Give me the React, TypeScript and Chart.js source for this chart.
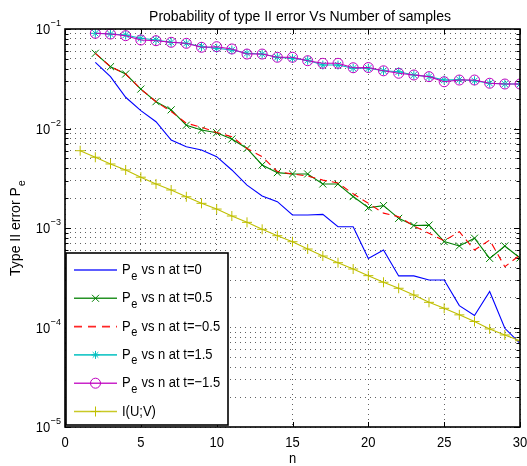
import React, { useEffect, useRef } from 'react';
import { Chart, registerables } from 'chart.js';

Chart.register(...registerables);

// ---------------- data ----------------
const nPe = [2, 3, 4, 5, 6, 7, 8, 9, 10, 11, 12, 13, 14, 15, 16, 17, 18, 19, 20, 21, 22, 23, 24, 25, 26, 27, 28, 29, 30];
const nI = [1, 2, 3, 4, 5, 6, 7, 8, 9, 10, 11, 12, 13, 14, 15, 16, 17, 18, 19, 20, 21, 22, 23, 24, 25, 26, 27, 28, 29, 30];

const peT0 = [0.0463, 0.0332, 0.0206, 0.0151, 0.0117, 0.00766, 0.00656, 0.00608, 0.00521, 0.00383, 0.0027, 0.0021, 0.00184, 0.00135, 0.00135, 0.00137, 0.00103, 0.00103, 0.000495, 0.0006, 0.00033, 0.00033, 0.0003, 0.0003, 0.000166, 0.000132, 0.00023, 0.0000982, 0.0000693];
const peT05 = [0.057, 0.0418, 0.0353, 0.0249, 0.0186, 0.0154, 0.0108, 0.00966, 0.00908, 0.00784, 0.0063, 0.0043, 0.0036, 0.00349, 0.00349, 0.00277, 0.00277, 0.00207, 0.0016, 0.00168, 0.00125, 0.00106, 0.00107, 0.00073, 0.00066, 0.00079, 0.000495, 0.00066, 0.0005];
const peTm05 = [0.057, 0.0418, 0.0353, 0.0249, 0.0186, 0.0148, 0.0113, 0.0103, 0.0091, 0.00828, 0.0063, 0.0052, 0.0037, 0.00349, 0.00333, 0.00303, 0.00283, 0.00221, 0.00177, 0.00141, 0.0013, 0.00105, 0.000885, 0.000745, 0.000918, 0.000601, 0.000757, 0.000408, 0.000535];
const peT15 = [0.0905, 0.089, 0.087, 0.0806, 0.0775, 0.0735, 0.0718, 0.0664, 0.064, 0.0615, 0.057, 0.056, 0.052, 0.0507, 0.0485, 0.0434, 0.0434, 0.0403, 0.0403, 0.038, 0.0372, 0.0345, 0.0332, 0.0307, 0.031, 0.0302, 0.0285, 0.028, 0.028];
const peTm15 = [0.0905, 0.089, 0.0857, 0.0775, 0.0763, 0.0735, 0.0718, 0.0655, 0.0664, 0.063, 0.056, 0.056, 0.052, 0.052, 0.048, 0.0452, 0.0452, 0.0408, 0.041, 0.038, 0.0359, 0.0345, 0.0332, 0.0295, 0.0307, 0.0307, 0.0285, 0.028, 0.028];
const iUV = [0.00598, 0.00514, 0.0044, 0.00383, 0.00324, 0.00277, 0.00241, 0.00206, 0.00177, 0.00155, 0.00132, 0.00114, 0.00097, 0.000837, 0.000728, 0.000615, 0.000523, 0.000448, 0.000387, 0.000332, 0.000285, 0.000248, 0.000212, 0.000179, 0.000156, 0.000134, 0.000115, 0.0000967, 0.0000841, 0.0000736];

const xTicks = [0, 5, 10, 15, 20, 25, 30];
const yDecadeExps = [-5, -4, -3, -2, -1];
const yMinorMult = [1, 2, 3, 4, 5, 6, 7, 8, 9];

const titleText = 'Probability of type II error Vs Number of samples';
const xLabel = 'n';
const yLabelMain = 'Type II error P';
const yLabelSub = 'e';

const legendItems = [
  { main: 'P', sub: 'e', rest: ' vs n at t=0', color: '#0000ff', marker: 'none', dash: [] as number[] },
  { main: 'P', sub: 'e', rest: ' vs n at t=0.5', color: '#008000', marker: 'x', dash: [] as number[] },
  { main: 'P', sub: 'e', rest: ' vs n at t=\u22120.5', color: '#ff0000', marker: 'none', dash: [8, 6] },
  { main: 'P', sub: 'e', rest: ' vs n at t=1.5', color: '#00bfbf', marker: 'star', dash: [] as number[] },
  { main: 'P', sub: 'e', rest: ' vs n at t=\u22121.5', color: '#bf00bf', marker: 'circle', dash: [] as number[] },
  { main: 'I(U;V)', sub: '', rest: '', color: '#bfbf00', marker: 'plus', dash: [] as number[] },
];

const FONT = "'Liberation Sans', Arial, Helvetica, sans-serif";

function pts(xs: number[], ys: number[]) {
  return xs.map((x, i) => ({ x, y: ys[i] }));
}

function textScaled(ctx: CanvasRenderingContext2D, s: string, x: number, y: number, sy: number) {
  ctx.save();
  ctx.translate(x, y);
  ctx.scale(1, sy);
  ctx.fillText(s, 0, 0);
  ctx.restore();
}

function drawMarker(ctx: CanvasRenderingContext2D, kind: string, cx: number, cy: number, color: string) {
  ctx.save();
  ctx.strokeStyle = color;
  ctx.lineWidth = 1;
  ctx.setLineDash([]);
  ctx.beginPath();
  if (kind === 'x') {
    const r = 3.5;
    ctx.moveTo(cx - r, cy - r); ctx.lineTo(cx + r, cy + r);
    ctx.moveTo(cx - r, cy + r); ctx.lineTo(cx + r, cy - r);
  } else if (kind === 'star') {
    const r = 4;
    ctx.moveTo(cx - r, cy); ctx.lineTo(cx + r, cy);
    ctx.moveTo(cx, cy - r); ctx.lineTo(cx, cy + r);
    const d = r * 0.7;
    ctx.moveTo(cx - d, cy - d); ctx.lineTo(cx + d, cy + d);
    ctx.moveTo(cx - d, cy + d); ctx.lineTo(cx + d, cy - d);
  } else if (kind === 'circle') {
    ctx.arc(cx, cy, 5, 0, Math.PI * 2);
  } else if (kind === 'plus') {
    const r = 5;
    ctx.moveTo(cx - r, cy); ctx.lineTo(cx + r, cy);
    ctx.moveTo(cx, cy - r); ctx.lineTo(cx, cy + r);
  }
  ctx.stroke();
  ctx.restore();
}

const decorPlugin = {
  id: 'matlabDecor',
  afterDatasetsDraw(chart: any) {
    const ctx: CanvasRenderingContext2D = chart.ctx;
    const a = chart.chartArea;
    const xs = chart.scales.x;
    const ys = chart.scales.y;
    ctx.save();
    ctx.setLineDash([]);
    ctx.strokeStyle = '#000';
    ctx.lineWidth = 1;

    // inner tick marks (y)
    ctx.beginPath();
    yDecadeExps.forEach((e) => {
      yMinorMult.forEach((m) => {
        const v = m * Math.pow(10, e);
        const py = Math.round(ys.getPixelForValue(v)) + 0.5;
        const len = m === 1 ? 6 : 3.5;
        ctx.moveTo(a.left, py); ctx.lineTo(a.left + len, py);
        ctx.moveTo(a.right, py); ctx.lineTo(a.right - len, py);
      });
    });
    // inner tick marks (x)
    xTicks.forEach((t) => {
      const px = Math.round(xs.getPixelForValue(t)) + 0.5;
      ctx.moveTo(px, a.bottom); ctx.lineTo(px, a.bottom - 5);
      ctx.moveTo(px, a.top); ctx.lineTo(px, a.top + 5);
    });
    ctx.stroke();

    // box
    ctx.lineWidth = 1.6;
    ctx.strokeRect(a.left, a.top, a.right - a.left, a.bottom - a.top);

    // legend
    const lx0 = 66, ly0 = 253, lx1 = 228, ly1 = 425;
    ctx.fillStyle = '#fff';
    ctx.fillRect(lx0, ly0, lx1 - lx0, ly1 - ly0);
    ctx.lineWidth = 1.6;
    ctx.strokeStyle = '#000';
    ctx.strokeRect(lx0, ly0, lx1 - lx0, ly1 - ly0);
    legendItems.forEach((it, i) => {
      const ry = 270 + i * 28.3;
      ctx.save();
      ctx.strokeStyle = it.color;
      ctx.globalAlpha = 0.85;
      ctx.lineWidth = 1.6;
      ctx.setLineDash(it.dash);
      ctx.beginPath();
      ctx.moveTo(74, ry); ctx.lineTo(117, ry);
      ctx.stroke();
      ctx.restore();
      if (it.marker !== 'none') drawMarker(ctx, it.marker, 95.5, ry, it.color);
      ctx.fillStyle = '#000';
      ctx.textAlign = 'left';
      ctx.textBaseline = 'alphabetic';
      ctx.font = `13px ${FONT}`;
      let x = 122;
      textScaled(ctx, it.main, x, ry + 4, 1.18);
      x += ctx.measureText(it.main).width;
      if (it.sub) {
        ctx.font = `11px ${FONT}`;
        textScaled(ctx, it.sub, x + 0.5, ry + 9.5, 1.18);
        x += ctx.measureText(it.sub).width + 1;
        ctx.font = `13px ${FONT}`;
      }
      if (it.rest) textScaled(ctx, it.rest, x, ry + 4, 1.18);
    });

    // x tick labels
    ctx.fillStyle = '#000';
    ctx.font = `13px ${FONT}`;
    ctx.textAlign = 'center';
    ctx.textBaseline = 'alphabetic';
    xTicks.forEach((t) => {
      textScaled(ctx, String(t), xs.getPixelForValue(t), 447, 1.1);
    });
    textScaled(ctx, xLabel, (a.left + a.right) / 2, 463, 1.1);

    // y tick labels
    yDecadeExps.forEach((e) => {
      const py = ys.getPixelForValue(Math.pow(10, e));
      const expStr = '\u2212' + String(-e);
      ctx.font = `9px ${FONT}`;
      ctx.textAlign = 'right';
      const ew = ctx.measureText(expStr).width;
      textScaled(ctx, expStr, 61, py - 3, 1.1);
      ctx.font = `13px ${FONT}`;
      textScaled(ctx, '10', 61 - ew - 0.5, py + 5.3, 1.15);
    });

    // title
    ctx.font = `14px ${FONT}`;
    ctx.textAlign = 'center';
    ctx.fillText(titleText, 300, 20.5);

    // y label (rotated)
    ctx.save();
    ctx.translate(20, (a.top + a.bottom) / 2);
    ctx.rotate(-Math.PI / 2);
    ctx.font = `14px ${FONT}`;
    const w1 = ctx.measureText(yLabelMain).width;
    ctx.font = `11px ${FONT}`;
    const w2 = ctx.measureText(yLabelSub).width;
    const start = -(w1 + w2 + 1) / 2;
    ctx.textAlign = 'left';
    ctx.font = `14px ${FONT}`;
    ctx.fillText(yLabelMain, start, 0);
    ctx.font = `11px ${FONT}`;
    ctx.fillText(yLabelSub, start + w1 + 1, 5);
    ctx.restore();

    ctx.restore();
  },
};

export default function App() {
  const ref = useRef<HTMLCanvasElement>(null);
  useEffect(() => {
    if (!ref.current) return;
    const lineBase = { fill: false, tension: 0, borderWidth: 1.1, pointBorderWidth: 1, pointBackgroundColor: 'rgba(0,0,0,0)' };
    const gridColor = 'rgba(0,0,0,0.62)';
    const chart = new Chart(ref.current, {
      type: 'line',
      data: {
        datasets: [
          { ...lineBase, label: 't=0', data: pts(nPe, peT0), borderColor: '#0000ff', pointRadius: 0, order: 6 },
          { ...lineBase, label: 't=0.5', data: pts(nPe, peT05), borderColor: '#008000', pointBorderColor: '#008000', pointStyle: 'crossRot', pointRadius: 5, order: 5 },
          { ...lineBase, label: 't=-0.5', data: pts(nPe, peTm05), borderColor: '#ff0000', borderDash: [7, 5], pointRadius: 0, order: 4 },
          { ...lineBase, label: 't=1.5', data: pts(nPe, peT15), borderColor: '#00bfbf', pointBorderColor: '#00bfbf', pointStyle: 'star', pointRadius: 4.5, order: 3 },
          { ...lineBase, label: 't=-1.5', data: pts(nPe, peTm15), borderColor: '#bf00bf', pointBorderColor: '#bf00bf', pointStyle: 'circle', pointRadius: 5, order: 2 },
          { ...lineBase, label: 'I(U;V)', data: pts(nI, iUV), borderColor: '#bfbf00', pointBorderColor: '#bfbf00', pointStyle: 'cross', pointRadius: 5, order: 1 },
        ],
      },
      options: {
        responsive: false,
        animation: false,
        devicePixelRatio: 1,
        layout: { padding: { left: 0, right: 7, top: 29, bottom: 0 } },
        plugins: { legend: { display: false }, tooltip: { enabled: false }, title: { display: false } },
        scales: {
          x: {
            type: 'linear',
            min: 0,
            max: 30,
            ticks: { display: false, stepSize: 5 },
            afterBuildTicks: (s: any) => { s.ticks = xTicks.map((v) => ({ value: v })); },
            afterFit: (s: any) => { s.height = 39; },
            border: { display: false, dash: [1, 4] },
            grid: { color: gridColor, lineWidth: 1, drawTicks: false },
          },
          y: {
            type: 'logarithmic',
            min: 1e-5,
            max: 1e-1,
            ticks: { display: false },
            afterBuildTicks: (s: any) => {
              const t: any[] = [];
              yDecadeExps.forEach((e) => yMinorMult.forEach((m) => t.push({ value: m * Math.pow(10, e), major: m === 1 })));
              t.push({ value: 1e-1, major: true });
              s.ticks = t;
            },
            afterFit: (s: any) => { s.width = 65; },
            border: { display: false, dash: [1, 4] },
            grid: { color: gridColor, lineWidth: 1, drawTicks: false },
          },
        },
      } as any,
      plugins: [decorPlugin],
    });
    return () => chart.destroy();
  }, []);
  return (
    <div style={{ position: 'absolute', left: 0, top: 0, width: 527, height: 466, background: '#fff' }}>
      <canvas ref={ref} width={527} height={466} />
    </div>
  );
}
